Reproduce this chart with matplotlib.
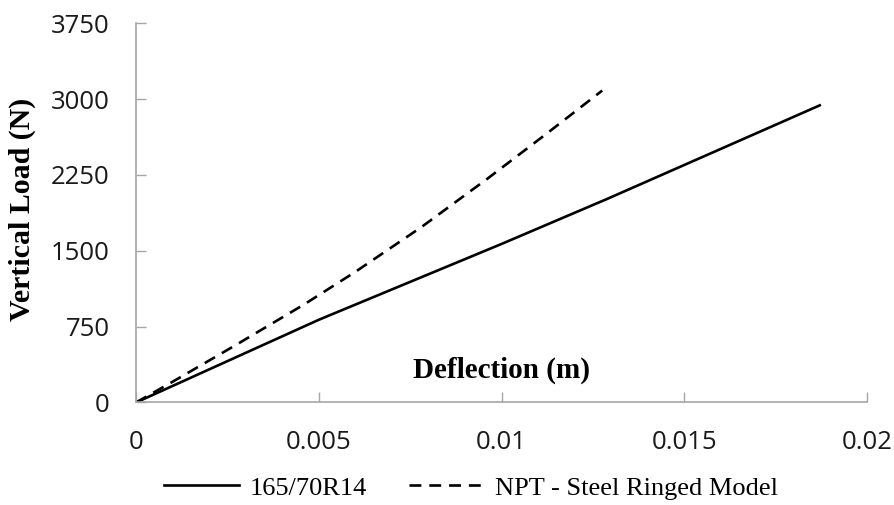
"""Vertical load vs deflection for tyre models."""

import matplotlib
matplotlib.use("Agg")
import matplotlib.pyplot as plt

# data
tyre_deflection = [0.0, 0.005, 0.010, 0.0129, 0.0187]
tyre_load = [0, 818, 1568, 2015, 2938]

npt_deflection = [0.0, 0.001, 0.0027, 0.0046, 0.006,
                  0.0078, 0.0096, 0.0112, 0.01275]
npt_load = [0, 205, 562, 970, 1292,
            1733, 2210, 2650, 3084]

x_ticks = [0, 0.005, 0.01, 0.015, 0.02]
x_tick_labels = ["0", "0.005", "0.01", "0.015", "0.02"]
y_ticks = [0, 750, 1500, 2250, 3000, 3750]

series_names = ["165/70R14", "NPT - Steel Ringed Model"]

axis_grey = "#a6a6a6"

fig = plt.figure(figsize=(8.95, 5.05), dpi=100)
ax = fig.add_axes([0.152, 0.203, 0.817, 0.751])

ax.plot(tyre_deflection, tyre_load, color="black", linewidth=1.9,
        label=series_names[0])
ax.plot(npt_deflection, npt_load, color="black", linewidth=1.9,
        dashes=[4.5, 3], label=series_names[1])

ax.set_xlim(0, 0.02)
ax.set_ylim(0, 3750)
ax.set_xticks(x_ticks)
ax.set_xticklabels(x_tick_labels)
ax.set_yticks(y_ticks)

for lab in ax.get_xticklabels() + ax.get_yticklabels():
    lab.set_family("Open Sans")
    lab.set_fontsize(18.5)
    lab.set_color("#1a1a1a")

ax.tick_params(axis="both", direction="in", length=7, width=1,
               color=axis_grey)
ax.tick_params(axis="x", pad=20)
ax.tick_params(axis="y", pad=19)

for side in ["top", "right"]:
    ax.spines[side].set_visible(False)
for side in ["left", "bottom"]:
    ax.spines[side].set_color(axis_grey)
    ax.spines[side].set_linewidth(1.2)

ax.set_ylabel("Vertical Load (N)", family="Liberation Serif",
              fontweight="bold", fontsize=21.5, labelpad=12)
ax.yaxis.set_label_coords(-0.137, 0.51)
ax.text(0.5, 0.085, "Deflection (m)", transform=ax.transAxes,
        ha="center", va="center", family="Liberation Serif",
        fontweight="bold", fontsize=21)

fig.legend(loc="center", bbox_to_anchor=(0.526, 0.034), ncol=2,
           frameon=False, prop={"family": "Liberation Serif", "size": 19},
           handlelength=2.85, handletextpad=0.4, columnspacing=1.6)

fig.savefig("out.png", dpi=100)
plt.close(fig)
